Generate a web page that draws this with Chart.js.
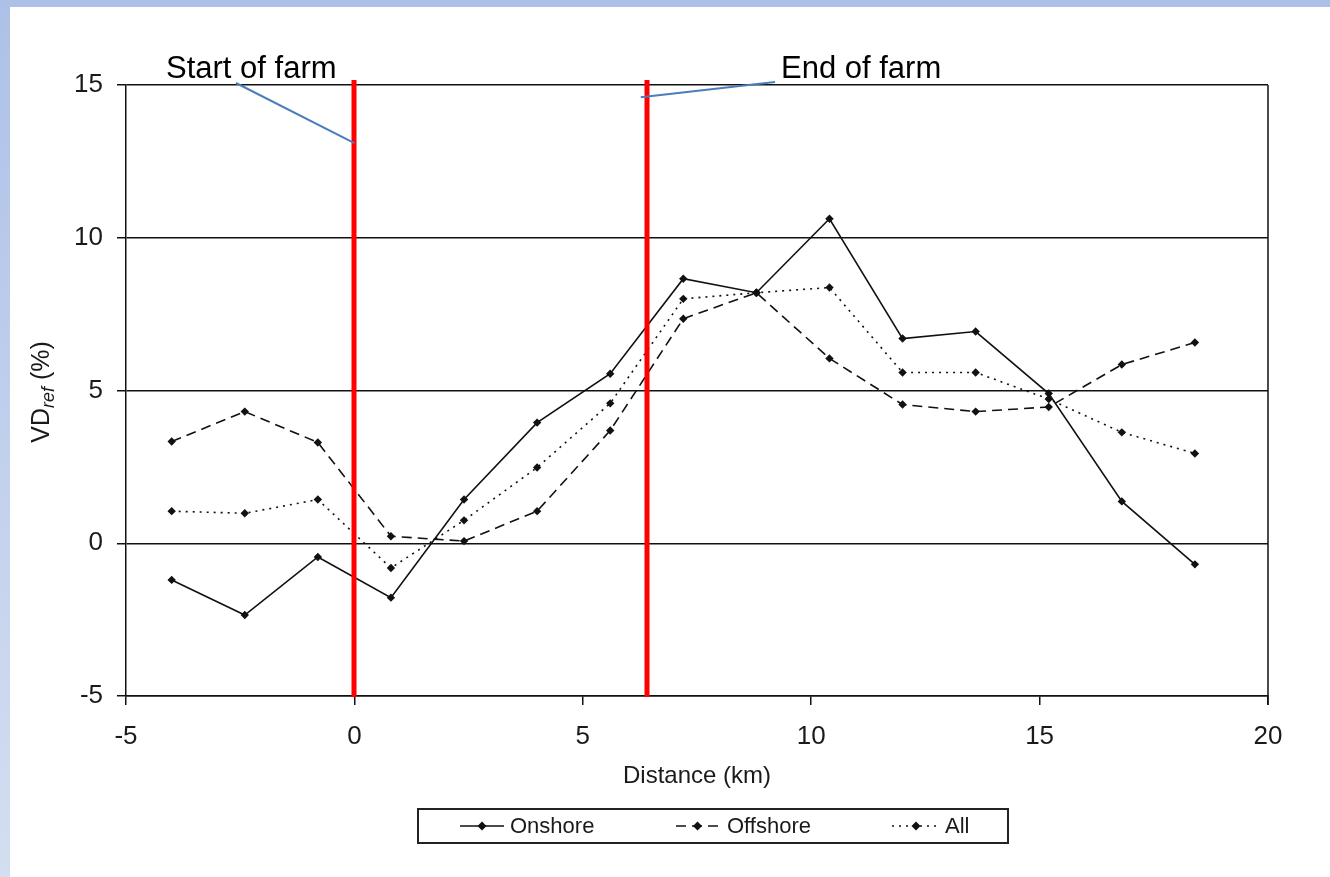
<!DOCTYPE html>
<html>
<head>
<meta charset="utf-8">
<script src="https://cdn.jsdelivr.net/npm/chart.js@4/dist/chart.umd.min.js"></script>
<style>
  html, body { margin: 0; padding: 0; background: #ffffff; }
  canvas { display: block; }
</style>
</head>
<body>
<canvas id="vdChart" width="1330" height="877"></canvas>
<script>
// Distance from the start of the wind farm (km) and the velocity deficit per wind sector (%)
const distanceKm = [-4.0, -2.4, -0.8, 0.8, 2.4, 4.0, 5.6, 7.2, 8.8, 10.4, 12.0, 13.6, 15.2, 16.8, 18.4];
const onshore    = [-1.20, -2.35, -0.45, -1.78, 1.43, 3.95, 5.55, 8.66, 8.20, 10.62, 6.70, 6.93, 4.90, 1.37, -0.69];
const offshore   = [3.33, 4.31, 3.30, 0.23, 0.07, 1.05, 3.69, 7.35, 8.20, 6.05, 4.54, 4.31, 4.46, 5.85, 6.57];
const allSectors = [1.05, 0.98, 1.43, -0.81, 0.75, 2.48, 4.58, 8.00, 8.20, 8.37, 5.59, 5.59, 4.72, 3.63, 2.94];

// Axis ticks
const xTickValues = [-5, 0, 5, 10, 15, 20];
const yTickValues = [-5, 0, 5, 10, 15];

// Farm extent along the transect (km)
const farmStartKm = 0;
const farmEndKm = 6.4;

const FONT = '"Liberation Sans", Arial, Helvetica, sans-serif';
const INK = '#111111';
const TEXT = '#1a1a1a';

const toPoints = (ys) => distanceKm.map((x, i) => ({ x: x, y: ys[i] }));

const seriesStyle = {
  Onshore:  { dash: [] },
  Offshore: { dash: [10, 6] },
  All:      { dash: [2, 5] }
};

function makeDataset(label, values) {
  return {
    label: label,
    data: toPoints(values),
    borderColor: INK,
    backgroundColor: INK,
    borderWidth: 1.6,
    borderDash: seriesStyle[label].dash,
    pointStyle: 'rectRot',
    pointRadius: 4.2,
    pointBorderWidth: 0,
    pointBackgroundColor: INK,
    tension: 0,
    fill: false
  };
}

// Page backdrop: white sheet with a pale blue edge on the top and left
const backdrop = {
  id: 'backdrop',
  beforeDraw(chart) {
    const { ctx, width, height } = chart;
    ctx.save();
    ctx.fillStyle = '#ffffff';
    ctx.fillRect(0, 0, width, height);
    const g = ctx.createLinearGradient(0, 0, 0, height);
    g.addColorStop(0, '#adc1e8');
    g.addColorStop(1, '#d4def1');
    ctx.fillStyle = g;
    ctx.fillRect(0, 0, 10, height);
    ctx.fillStyle = '#adc1e8';
    ctx.fillRect(0, 0, width, 7);
    ctx.restore();
  }
};

// Closing the plot frame on the right side
const plotFrame = {
  id: 'plotFrame',
  afterDraw(chart) {
    const { ctx, chartArea: a } = chart;
    ctx.save();
    ctx.strokeStyle = INK;
    ctx.lineWidth = 1.5;
    ctx.beginPath();
    ctx.moveTo(a.right, a.top);
    ctx.lineTo(a.right, a.bottom + 9);
    ctx.stroke();
    ctx.restore();
  }
};

// Red lines marking the farm, with labelled blue leader lines
const farmMarkers = {
  id: 'farmMarkers',
  afterDatasetsDraw(chart) {
    const { ctx, chartArea: a, scales: { x, y } } = chart;
    ctx.save();
    ctx.strokeStyle = '#ff0000';
    ctx.lineWidth = 5;
    [farmStartKm, farmEndKm].forEach(v => {
      const px = Math.round(x.getPixelForValue(v));
      ctx.beginPath();
      ctx.moveTo(px, a.top - 5);
      ctx.lineTo(px, a.bottom + 1);
      ctx.stroke();
    });

    ctx.strokeStyle = '#4a7ebb';
    ctx.lineWidth = 2;
    // leader to the start line
    ctx.beginPath();
    ctx.moveTo(236, a.top - 2);
    ctx.lineTo(x.getPixelForValue(farmStartKm), y.getPixelForValue(13.1));
    ctx.stroke();
    // leader to the end line
    ctx.beginPath();
    ctx.moveTo(775, a.top - 3);
    ctx.lineTo(x.getPixelForValue(farmEndKm) - 6, y.getPixelForValue(14.6));
    ctx.stroke();

    ctx.fillStyle = '#000000';
    ctx.font = '31px ' + FONT;
    ctx.textBaseline = 'alphabetic';
    ctx.textAlign = 'left';
    ctx.fillText('Start of farm', 166, 78);
    ctx.fillText('End of farm', 781, 78);
    ctx.restore();
  }
};

// Vertical axis title with subscript
const yAxisTitle = {
  id: 'yAxisTitle',
  afterDraw(chart) {
    const { ctx } = chart;
    ctx.save();
    ctx.translate(49, 392);
    ctx.rotate(-Math.PI / 2);
    ctx.fillStyle = TEXT;
    ctx.textBaseline = 'alphabetic';
    const main = '25px ' + FONT;
    const sub = 'italic 18px ' + FONT;
    ctx.font = main;
    const w1 = ctx.measureText('VD').width;
    ctx.font = sub;
    const w2 = ctx.measureText('ref').width;
    ctx.font = main;
    const w3 = ctx.measureText(' (%)').width;
    let cx = -(w1 + w2 + w3) / 2;
    ctx.font = main;
    ctx.fillText('VD', cx, 0);
    cx += w1;
    ctx.font = sub;
    ctx.fillText('ref', cx, 5);
    cx += w2;
    ctx.font = main;
    ctx.fillText(' (%)', cx, 0);
    ctx.restore();
  }
};

// Boxed legend below the axis showing each series' line style
const boxedLegend = {
  id: 'boxedLegend',
  afterDraw(chart, args, opts) {
    const { ctx } = chart;
    const box = opts.box;
    ctx.save();
    ctx.strokeStyle = '#222222';
    ctx.lineWidth = 2;
    ctx.strokeRect(box.x, box.y, box.w, box.h);
    const cy = box.y + box.h / 2;
    ctx.font = '22px ' + FONT;
    ctx.textBaseline = 'middle';
    ctx.fillStyle = TEXT;
    chart.data.datasets.forEach((ds, i) => {
      const e = opts.entries[i];
      ctx.strokeStyle = INK;
      ctx.lineWidth = 1.6;
      ctx.setLineDash(ds.borderDash || []);
      ctx.beginPath();
      ctx.moveTo(e.x0, cy);
      ctx.lineTo(e.x1, cy);
      ctx.stroke();
      ctx.setLineDash([]);
      const mx = (e.x0 + e.x1) / 2;
      ctx.fillStyle = INK;
      ctx.beginPath();
      ctx.moveTo(mx, cy - 4.5);
      ctx.lineTo(mx + 4.5, cy);
      ctx.lineTo(mx, cy + 4.5);
      ctx.lineTo(mx - 4.5, cy);
      ctx.closePath();
      ctx.fill();
      ctx.fillStyle = TEXT;
      ctx.fillText(ds.label, e.tx, cy + 1);
    });
    ctx.restore();
  }
};

const chart = new Chart(document.getElementById('vdChart'), {
  type: 'line',
  data: {
    datasets: [
      makeDataset('Onshore', onshore),
      makeDataset('Offshore', offshore),
      makeDataset('All', allSectors)
    ]
  },
  options: {
    responsive: false,
    devicePixelRatio: 1,
    animation: false,
    layout: { padding: { left: 10, top: 85, right: 62, bottom: 81 } },
    plugins: {
      legend: { display: false },
      tooltip: { enabled: false },
      boxedLegend: {
        box: { x: 418, y: 809, w: 590, h: 34 },
        entries: [
          { x0: 460, x1: 504, tx: 510 },
          { x0: 676, x1: 719, tx: 727 },
          { x0: 892, x1: 940, tx: 945 }
        ]
      }
    },
    scales: {
      x: {
        type: 'linear',
        min: -5,
        max: 20,
        afterBuildTicks: (s) => { s.ticks = xTickValues.map(v => ({ value: v })); },
        afterFit: (s) => { s.height = 100; },
        border: { display: true, color: INK, width: 1.5 },
        grid: { display: true, drawOnChartArea: false, drawTicks: true, tickLength: 9, color: INK, lineWidth: 1.5 },
        ticks: { color: TEXT, font: { family: FONT, size: 26 }, padding: 16, maxRotation: 0 },
        title: { display: true, text: 'Distance (km)', color: TEXT, font: { family: FONT, size: 24 }, padding: { top: 0, bottom: 5 } }
      },
      y: {
        min: -5,
        max: 15,
        afterBuildTicks: (s) => { s.ticks = yTickValues.map(v => ({ value: v })); },
        afterFit: (s) => { s.width = 116; },
        border: { display: true, color: INK, width: 1.5 },
        grid: { display: true, drawTicks: true, tickLength: 9, color: INK, lineWidth: 1.5 },
        ticks: { color: TEXT, font: { family: FONT, size: 26 }, padding: 14 }
      }
    }
  },
  plugins: [backdrop, farmMarkers, plotFrame, yAxisTitle, boxedLegend]
});
</script>
</body>
</html>
